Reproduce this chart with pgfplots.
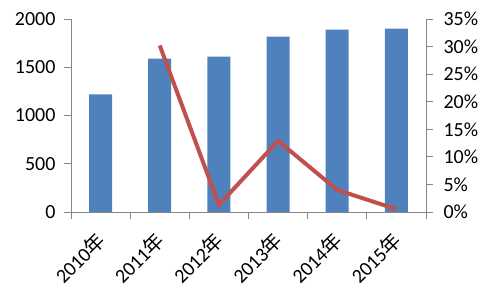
\documentclass[border=0pt]{standalone}
\usepackage{fontspec}
\setmainfont{Carlito}
\newfontfamily\cjk{Noto Sans CJK SC}
\usepackage{pgfplots}
\pgfplotsset{compat=1.18}
\definecolor{barblue}{HTML}{4F81BD}
\definecolor{linered}{HTML}{C0504D}
\definecolor{axgray}{HTML}{868686}
\begin{document}
\begin{tikzpicture}
\useasboundingbox (-71pt,-82pt) rectangle (425pt,212pt);
\pgfplotsset{
 common/.style={scale only axis, width=355pt, height=193pt, xmin=-0.5, xmax=5.5,
   tick label style={font=\fontsize{20}{24}\selectfont, text=black},
   /pgf/number format/assume math mode=true,
   /pgf/number format/1000 sep={},
   axis line style={axgray, line width=0.8pt},
   tick style={axgray, line width=0.8pt},
   tick align=outside, major tick length=7pt, minor tick length=7pt,
 }
}
\begin{axis}[common,
  ymin=0, ymax=2000, ytick={0,500,...,2000},
  yticklabel shift=5pt,
  axis x line*=bottom, axis y line*=left,
  xtick={-0.1,0.9,1.9,2.9,3.9,4.9},
  xticklabels={2010{\cjk 年},2011{\cjk 年},2012{\cjk 年},2013{\cjk 年},2014{\cjk 年},2015{\cjk 年}},
  x tick label style={rotate=45, anchor=north east, inner sep=2pt},
  xticklabel shift=8pt,
  major x tick style={draw=none},
  minor xtick={-0.5,0.5,...,5.5},
]
\addplot[ybar, bar width=23pt, fill=barblue, draw=none] coordinates {
(0,1220) (1,1589) (2,1609) (3,1817) (4,1890) (5,1900)};
\end{axis}
\begin{axis}[common,
  ymin=0, ymax=35, ytick={0,5,...,35},
  yticklabel={\pgfmathprintnumber{\tick}\%},
  yticklabel shift=7pt,
  axis y line*=right, axis x line=none,
]
\addplot[linered, line width=4pt] coordinates {(1,30.2) (2,1.3) (3,12.9) (4,4.0) (5,0.5)};
\end{axis}
\end{tikzpicture}
\end{document}
